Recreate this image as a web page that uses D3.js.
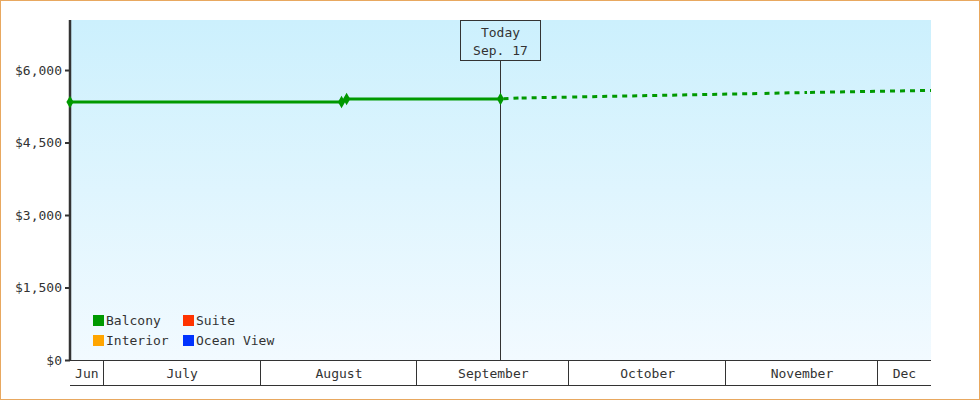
<!DOCTYPE html>
<html>
<head>
<meta charset="utf-8">
<script src="https://cdn.jsdelivr.net/npm/d3@7"></script>
<style>
  html, body { margin: 0; padding: 0; background: #fff; }
  #frame { width: 978px; height: 398px; border: 1px solid #e8a860; position: relative; }
  svg { display: block; }
  text { font-family: "DejaVu Sans Mono", monospace; font-size: 13px; fill: #333; }
</style>
</head>
<body>
<div id="frame"></div>
<script>
// price history (solid) and forecast (dotted) for Balcony
var histDates = ["2023-06-24T08:00", "2023-08-17T00:00", "2023-08-18T00:00", "2023-09-17T10:00"];
var histValues = [5340, 5340, 5400, 5400];
var foreDates = ["2023-09-17T10:00", "2023-09-21T00:00", "2023-10-01T00:00", "2023-11-08T00:00", "2023-11-17T00:00", "2023-12-11T12:00"];
var foreValues = [5400, 5420, 5440, 5515, 5535, 5578];

var yTicks = [0, 1500, 3000, 4500, 6000];
var monthStarts = ["2023-06-24T08:00", "2023-07-01", "2023-08-01", "2023-09-01", "2023-10-01", "2023-11-01", "2023-12-01", "2023-12-11T12:00"];
var monthLabels = ["Jun", "July", "August", "September", "October", "November", "Dec"];

var legendNames = ["Balcony", "Suite", "Interior", "Ocean View"];
var legendColors = ["#009900", "#ff3300", "#ffa500", "#0033ff"];

var todayDate = "2023-09-17T10:00";
var todayLabel = ["Today", "Sep. 17"];

var parse = function(s) { return new Date(s); };

var W = 978, H = 398,
    pl = 69, pr = 930, pt = 19, pb = 359;

var svg = d3.select("#frame").append("svg")
    .attr("width", W)
    .attr("height", H);

var x = d3.scaleTime()
    .domain([parse(monthStarts[0]), parse(monthStarts[monthStarts.length - 1])])
    .range([pl, pr]);
var y = d3.scaleLinear()
    .domain([0, 7035])
    .range([pb, pt]);

// background gradient
var grad = svg.append("defs").append("linearGradient")
    .attr("id", "bg")
    .attr("x1", 0).attr("y1", 0).attr("x2", 0).attr("y2", 1);
grad.append("stop").attr("offset", "0%").attr("stop-color", "#ccf0fd");
grad.append("stop").attr("offset", "100%").attr("stop-color", "#f2faff");

svg.append("rect")
    .attr("x", pl).attr("y", pt)
    .attr("width", pr - pl).attr("height", pb - pt)
    .attr("fill", "url(#bg)");

// y axis
var yAxis = svg.append("g")
    .attr("transform", "translate(" + pl + ",0)")
    .call(d3.axisLeft(y).tickValues(yTicks).tickFormat(d3.format("$,")).tickSize(5).tickPadding(3));
yAxis.select(".domain").attr("stroke", "#333").attr("stroke-width", 2.5)
    .attr("d", "M0," + pt + "V" + pb);
yAxis.selectAll(".tick line").attr("stroke", "#333").attr("stroke-width", 2);
yAxis.selectAll(".tick text").attr("fill", "#333")
    .style("font-family", "'DejaVu Sans Mono', monospace").style("font-size", "13px");

// month band axis
var months = monthLabels.map(function(m, i) {
  return { label: m, a: parse(monthStarts[i]), b: parse(monthStarts[i + 1]) };
});
var xa = svg.append("g");
xa.append("line").attr("x1", pl).attr("x2", pr).attr("y1", pb + 0.5).attr("y2", pb + 0.5)
    .attr("stroke", "#333");
xa.append("line").attr("x1", pl).attr("x2", pr).attr("y1", pb + 25.5).attr("y2", pb + 25.5)
    .attr("stroke", "#333");
xa.selectAll("line.sep").data(months.slice(1)).enter().append("line")
    .attr("class", "sep")
    .attr("x1", function(d) { return Math.round(x(d.a)) - 0.5; })
    .attr("x2", function(d) { return Math.round(x(d.a)) - 0.5; })
    .attr("y1", pb).attr("y2", pb + 25)
    .attr("stroke", "#333");
xa.selectAll("text").data(months).enter().append("text")
    .attr("x", function(d) { return (x(d.a) + x(d.b)) / 2; })
    .attr("y", pb + 18)
    .attr("text-anchor", "middle")
    .text(function(d) { return d.label; });

// today marker
var tx = Math.round(x(parse(todayDate))) - 0.5;
svg.append("line")
    .attr("x1", tx).attr("x2", tx).attr("y1", pt + 40).attr("y2", pb)
    .attr("stroke", "#333");
svg.append("rect")
    .attr("x", tx - 40).attr("y", pt + 0.5)
    .attr("width", 80).attr("height", 40)
    .attr("fill", "none").attr("stroke", "#333");
svg.selectAll("text.today").data(todayLabel).enter().append("text")
    .attr("class", "today")
    .attr("x", tx).attr("y", function(d, i) { return pt + 17 + i * 18; })
    .attr("text-anchor", "middle")
    .text(function(d) { return d; });

// lines
var line = d3.line()
    .x(function(d) { return x(d[0]); })
    .y(function(d) { return y(d[1]); });

var hist = histDates.map(function(d, i) { return [parse(d), histValues[i]]; });
var fore = foreDates.map(function(d, i) { return [parse(d), foreValues[i]]; });

svg.append("path")
    .attr("d", line(hist))
    .attr("fill", "none")
    .attr("stroke", "#009900")
    .attr("stroke-width", 3);

// forecast drawn as separate dashed segments
for (var i = 0; i < fore.length - 1; i++) {
  svg.append("path")
      .attr("d", line([fore[i], fore[i + 1]]))
      .attr("fill", "none")
      .attr("stroke", "#009900")
      .attr("stroke-width", 3)
      .attr("stroke-dasharray", "5,5")
      .attr("stroke-dashoffset", -3);
}

svg.selectAll("path.pt").data(hist).enter().append("path")
    .attr("class", "pt")
    .attr("d", d3.symbol().type(d3.symbolDiamond).size(45))
    .attr("transform", function(d) { return "translate(" + x(d[0]) + "," + y(d[1]) + ")"; })
    .attr("fill", "#009900");

// legend
var leg = svg.append("g");
var item = leg.selectAll("g").data(legendNames).enter().append("g")
    .attr("transform", function(d, i) {
      return "translate(" + (pl + 23 + (i % 2) * 90) + "," + (pb - 45 + Math.floor(i / 2) * 20) + ")";
    });
item.append("rect")
    .attr("width", 11).attr("height", 11)
    .attr("fill", function(d, i) { return legendColors[i]; });
item.append("text")
    .attr("x", 13).attr("y", 10)
    .text(function(d) { return d; });
</script>
</body>
</html>
